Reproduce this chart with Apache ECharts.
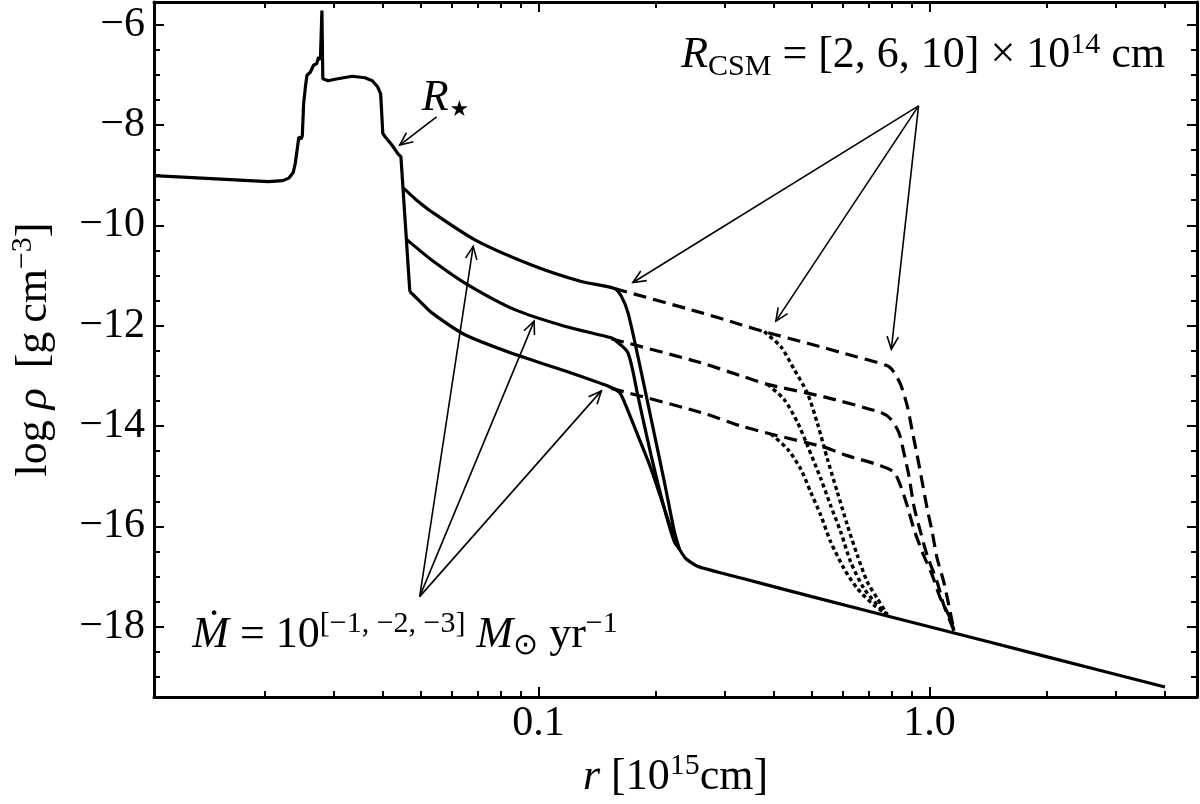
<!DOCTYPE html>
<html><head><meta charset="utf-8">
<script src="https://cdn.jsdelivr.net/npm/echarts@6/dist/echarts.min.js"></script>
<style>html,body{margin:0;padding:0;background:#fff}#c{width:1200px;height:804px}</style>
</head><body><div id="c"></div>
<script>
// ---------------- data (r in 1e15 cm, log rho in g cm^-3) ----------------
const progenitor = [[0.0104,-9.01],[0.0204,-9.13],[0.0222,-9.11],[0.0230,-9.06],[0.0236,-8.95],[0.0239,-8.76],[0.0242,-8.45],[0.0244,-8.24],[0.0247,-8.28],[0.0249,-8.22],[0.0251,-7.57],[0.0254,-7.20],[0.0256,-7.01],[0.0261,-6.95],[0.0266,-6.81],[0.0271,-6.78],[0.0274,-6.65],[0.0277,-6.70],[0.02795,-5.72],[0.0281,-7.08],[0.0290,-7.12],[0.0302,-7.09],[0.0334,-7.03],[0.0360,-7.06],[0.0376,-7.12],[0.0388,-7.24],[0.0395,-7.38],[0.0397,-7.70],[0.0400,-8.17],[0.0406,-8.24],[0.0422,-8.40],[0.0438,-8.58],[0.0442,-8.56],[0.0445,-8.63],[0.0469,-11.32]];
const solidHigh = [[0.0452,-9.26],[0.0485,-9.48],[0.0533,-9.73],[0.0688,-10.29],[0.0960,-10.79],[0.1287,-11.12],[0.1565,-11.26],[0.1628,-11.41],[0.1694,-11.74],[0.1796,-12.61],[0.1942,-13.86],[0.2100,-15.12],[0.2227,-16.11],[0.2293,-16.45]];
const solidMid = [[0.0461,-10.29],[0.0483,-10.42],[0.0533,-10.69],[0.0649,-11.15],[0.0870,-11.68],[0.1167,-12.01],[0.1535,-12.24],[0.1565,-12.28],[0.1694,-12.54],[0.1796,-13.40],[0.1942,-14.59],[0.2100,-15.65],[0.2227,-16.31],[0.2293,-16.45]];
const solidLow = [[0.0469,-11.32],[0.0500,-11.53],[0.0533,-11.74],[0.0649,-12.18],[0.0870,-12.57],[0.1167,-12.90],[0.1535,-13.23],[0.1612,-13.33],[0.1660,-13.53],[0.1796,-14.19],[0.1942,-14.86],[0.2100,-15.65],[0.2227,-16.25],[0.2293,-16.45]];
const wind = [[0.2293,-16.45],[0.2380,-16.64],[0.2560,-16.80],[0.3296,-17.03],[0.5,-17.40],[1.0,-18.0],[2.0,-18.6],[4.0,-19.2]];
const dashedHigh = [[0.1565,-11.26],[0.2604,-11.74],[0.3296,-11.98],[0.3778,-12.12],[0.4875,-12.35],[0.6500,-12.62],[0.7800,-12.80],[0.8100,-12.92],[0.8433,-13.17],[0.8771,-13.60],[0.9034,-14.10],[0.9302,-14.59],[0.9581,-15.12],[0.9865,-15.65],[1.016,-16.11],[1.046,-16.64],[1.088,-17.11],[1.120,-17.57],[1.155,-18.08]];
const dashedMid = [[0.1535,-12.26],[0.2604,-12.74],[0.3296,-13.00],[0.3855,-13.17],[0.5376,-13.42],[0.7499,-13.73],[0.7953,-13.86],[0.8350,-14.13],[0.8599,-14.53],[0.8855,-14.99],[0.9119,-15.59],[0.9484,-16.11],[0.9865,-16.58],[1.046,-17.11],[1.088,-17.57],[1.155,-18.08]];
const dashedLow = [[0.1535,-13.25],[0.2604,-13.73],[0.3296,-14.00],[0.3929,-14.16],[0.5376,-14.42],[0.6167,-14.59],[0.7499,-14.79],[0.8107,-14.92],[0.8433,-15.19],[0.8771,-15.59],[0.9119,-16.05],[0.9581,-16.51],[1.016,-16.97],[1.067,-17.44],[1.131,-17.84],[1.155,-18.08]];
const dottedHigh = [[0.3778,-12.12],[0.4168,-12.42],[0.4506,-12.87],[0.4875,-13.35],[0.5170,-13.95],[0.5483,-14.66],[0.5814,-15.32],[0.6167,-15.98],[0.6540,-16.58],[0.6937,-17.11],[0.7358,-17.44],[0.7800,-17.76]];
const dottedMid = [[0.3855,-13.17],[0.4249,-13.47],[0.4597,-13.93],[0.4875,-14.39],[0.5272,-15.05],[0.5590,-15.59],[0.5929,-16.11],[0.6287,-16.71],[0.6800,-17.24],[0.7499,-17.64],[0.7800,-17.76]];
const dottedLow = [[0.3929,-14.16],[0.4335,-14.46],[0.4687,-14.86],[0.4970,-15.32],[0.5272,-15.78],[0.5590,-16.31],[0.6045,-16.84],[0.6540,-17.24],[0.7213,-17.57],[0.7800,-17.76]];

// ticks
const xMajorTicks = [0.1, 1.0];
const xMinorTicks = [0.02,0.03,0.04,0.05,0.06,0.07,0.08,0.09,0.2,0.3,0.4,0.5,0.6,0.7,0.8,0.9,2,3,4];
const yMajorTicks = [-18,-16,-14,-12,-10,-8,-6];
const yMinorTicks = [-19,-18.5,-17.5,-17,-16.5,-15.5,-15,-14.5,-13.5,-13,-12.5,-11.5,-11,-10.5,-9.5,-9,-8.5,-7.5,-7,-6.5,-5.5];
const X_MIN = 0.0104, X_MAX = 4.83, Y_MIN = -19.4, Y_MAX = -5.55;

// annotations: arrows [r0, v0, r1(tip), v1(tip)]
const arrowRstar = [[0.0549,-7.84,0.0442,-8.40]];
const arrowsRcsm = [[0.9375,-7.62,0.1744,-11.14],[0.9375,-7.62,0.4047,-11.91],[0.9375,-7.62,0.7986,-12.47]];
const arrowsMdot = [[0.0497,-17.40,0.0681,-10.42],[0.0497,-17.40,0.0975,-11.91],[0.0497,-17.40,0.1448,-13.30]];
// text anchors (left edge, middle)
const labelAnchors = [[0.0503,-7.47],[0.2317,-6.62],[0.01303,-18.17]];
const labelTexts = [
  '{i|R}{star|\u2605}',
  '{i|R}{sub|CSM}{n| = [2, 6, 10] \u00D7 10}{sup|14}{n| cm}',
  '{i|\u1E40}{n| = 10}{sup|[\u22121, \u22122, \u22123]}{n| }{i|M}{sub|\u2299}{n| yr}{sup|\u22121}'
];

// ---------------- styles ----------------
const FONT = 'Liberation Serif';
const FS = 44;
const rich = {
  n: {fontFamily: FONT, fontSize: FS, lineHeight: 52, color: '#000'},
  i: {fontFamily: FONT, fontSize: FS, fontStyle: 'italic', lineHeight: 52, color: '#000'},
  sup: {fontFamily: FONT, fontSize: 30, lineHeight: 30, verticalAlign: 'top', color: '#000'},
  sub: {fontFamily: FONT, fontSize: 30, lineHeight: 30, verticalAlign: 'bottom', color: '#000'},
  star: {fontFamily: 'DejaVu Sans', fontSize: 22, lineHeight: 24, verticalAlign: 'bottom', color: '#000', padding: [0, 0, 3, 1]}
};

function lineSeries(data, type) {
  return {
    type: 'line', data: data, showSymbol: false, symbol: 'none', smooth: type === 'prog' ? false : 0.25,
    lineStyle: {color: '#000', width: type === 'dotted' ? 3.4 : 3.2, type: type === 'dashed' ? [13, 7] : (type === 'dotted' ? [4, 3.2] : 'solid'), cap: 'butt'},
    silent: true, z: 3
  };
}

function arrowSeries(data) {
  return {
    type: 'custom', data: data, silent: true, z: 5, clip: false,
    encode: {x: [0, 2], y: [1, 3]},
    renderItem: function (params, api) {
      const a = api.coord([api.value(0), api.value(1)]);
      const b = api.coord([api.value(2), api.value(3)]);
      const ang = Math.atan2(b[1] - a[1], b[0] - a[0]);
      const L = 14, W = 0.42;
      const h1 = [b[0] - L * Math.cos(ang - W), b[1] - L * Math.sin(ang - W)];
      const h2 = [b[0] - L * Math.cos(ang + W), b[1] - L * Math.sin(ang + W)];
      return {type: 'group', children: [
        {type: 'line', shape: {x1: a[0], y1: a[1], x2: b[0], y2: b[1]}, style: {stroke: '#000', lineWidth: 1.6}},
        {type: 'polyline', shape: {points: [h1, b, h2]}, style: {stroke: '#000', fill: null, lineWidth: 1.6}}
      ]};
    }
  };
}

const textSeries = {
  type: 'custom', data: labelAnchors, silent: true, z: 6, clip: false,
  renderItem: function (params, api) {
    const p = api.coord([api.value(0), api.value(1)]);
    return {type: 'text', x: p[0], y: p[1], style: {text: labelTexts[params.dataIndex], rich: rich, align: 'left', verticalAlign: 'middle'}};
  }
};

const axisLineStyle = {show: true, lineStyle: {color: '#000', width: 3}};
function xAx(pos, ticks, len, withLabel, line) {
  return {
    type: 'log', logBase: 10, min: X_MIN, max: X_MAX, position: pos,
    axisLine: line ? axisLineStyle : {show: false},
    axisTick: {show: true, inside: true, length: len, lineStyle: {color: '#000', width: 2}, customValues: ticks},
    axisLabel: withLabel ? {show: true, customValues: xMajorTicks, formatter: v => (v < 0.5 ? '0.1' : '1.0'), margin: 6, fontFamily: FONT, fontSize: 42, lineHeight: 42, color: '#000'} : {show: false},
    splitLine: {show: false}, minorTick: {show: false}, minorSplitLine: {show: false}
  };
}
function yAx(pos, ticks, len, withLabel, line) {
  return {
    type: 'value', min: Y_MIN, max: Y_MAX, position: pos,
    axisLine: line ? axisLineStyle : {show: false},
    axisTick: {show: true, inside: true, length: len, lineStyle: {color: '#000', width: 2}, customValues: ticks},
    axisLabel: withLabel ? {show: true, customValues: yMajorTicks, formatter: v => '\u2212' + Math.abs(v), margin: 9, fontFamily: FONT, fontSize: 42, color: '#000'} : {show: false},
    splitLine: {show: false}, minorTick: {show: false}
  };
}

const xAxes = [xAx('bottom', xMajorTicks, 10, true, true), xAx('bottom', xMinorTicks, 6, false, false), xAx('top', xMajorTicks, 10, false, true), xAx('top', xMinorTicks, 6, false, false)];
xAxes[0].name = '{i|r}{n| [10}{sup|15}{n|cm]}';
xAxes[0].nameLocation = 'middle';
xAxes[0].nameGap = 54;
xAxes[0].nameTextStyle = {rich: rich};
const yAxes = [yAx('left', yMajorTicks, 10, true, true), yAx('left', yMinorTicks, 6, false, false), yAx('right', yMajorTicks, 10, false, true), yAx('right', yMinorTicks, 6, false, false)];
yAxes[0].name = '{n|log }{i|\u03C1}{n|\u2009 [g\u2009cm}{sup|\u22123}{n|]}';
yAxes[0].nameLocation = 'middle';
yAxes[0].nameRotate = 90;
yAxes[0].nameGap = 94;
yAxes[0].nameTextStyle = {rich: rich};

const windSeries = lineSeries(wind, 'prog');
windSeries.smooth = 0.2;

const chart = echarts.init(document.getElementById('c'), null, {renderer: 'canvas'});
chart.setOption({
  animation: false,
  backgroundColor: '#fff',
  grid: {left: 152, right: 3, top: 2, bottom: 105},
  xAxis: xAxes,
  yAxis: yAxes,
  series: [
    lineSeries(progenitor, 'prog'),
    lineSeries(solidHigh, 'solid'), lineSeries(solidMid, 'solid'), lineSeries(solidLow, 'solid'),
    windSeries,
    lineSeries(dashedHigh, 'dashed'), lineSeries(dashedMid, 'dashed'), lineSeries(dashedLow, 'dashed'),
    lineSeries(dottedHigh, 'dotted'), lineSeries(dottedMid, 'dotted'), lineSeries(dottedLow, 'dotted'),
    arrowSeries(arrowRstar), arrowSeries(arrowsRcsm), arrowSeries(arrowsMdot),
    textSeries
  ]
});
</script>
</body></html>
